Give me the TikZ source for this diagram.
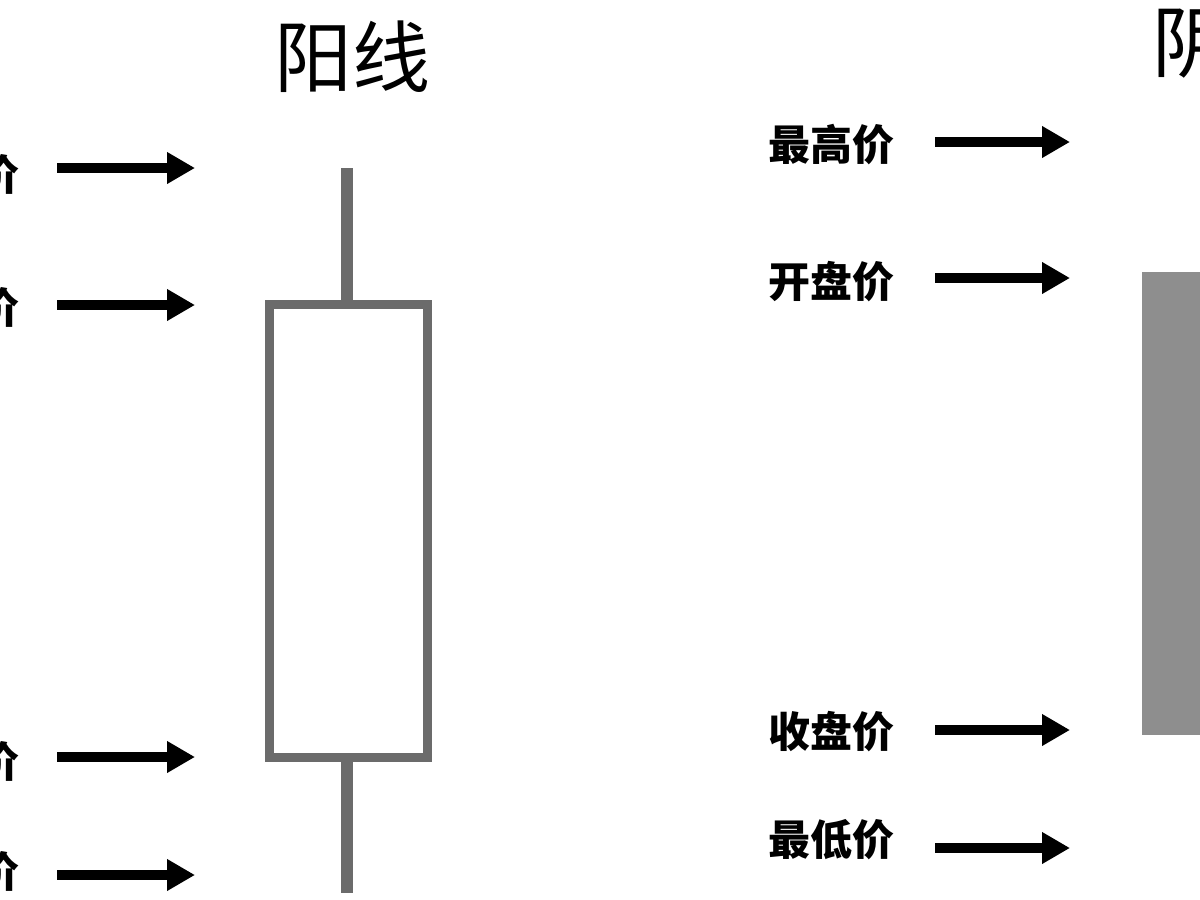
\documentclass[tikz,border=0pt]{standalone}
\usepackage{fontspec}
\newfontfamily\cjk{Noto Sans CJK SC}
\usetikzlibrary{arrows.meta}

\definecolor{wickgray}{HTML}{6B6B6B}
\definecolor{bodygray}{HTML}{8E8E8E}

\tikzset{
  price/.style={font=\cjk\bfseries\fontsize{42}{44}\selectfont, inner sep=0pt, anchor=east},
  title/.style={font=\cjk\fontsize{78}{80}\selectfont, inner sep=0pt},
  pointer/.style={-{Triangle[length=28pt,width=30pt]}, line width=9.5pt},
}

\begin{document}
\begin{tikzpicture}[x=1pt, y=-1pt]

\useasboundingbox (0,0) rectangle (1200,900);
\clip (0,0) rectangle (1200,900);

% yang candle (left)
\node (yang)[title] at (352,57) {阳线};

\node (yhigh)[price] at (20,175) {最高价};
\node (yclose)[price] at (20,308) {收盘价};
\node (yopen)[price] at (20,762) {开盘价};
\node (ylow)[price] at (20,872) {最低价};

\coordinate (yhightip) at (195,168);
\coordinate (yclosetip) at (195,305);
\coordinate (yopentip) at (195,757);
\coordinate (ylowtip) at (195,875);

\draw[pointer] ([xshift=37pt]yhigh.east |- yhightip) -- (yhightip);
\draw[pointer] ([xshift=37pt]yclose.east |- yclosetip) -- (yclosetip);
\draw[pointer] ([xshift=37pt]yopen.east |- yopentip) -- (yopentip);
\draw[pointer] ([xshift=37pt]ylow.east |- ylowtip) -- (ylowtip);

\draw[wickgray, line width=12pt] (347,168) -- (347,302);
\draw[wickgray, line width=9pt, fill=white] (269.5,304.5) rectangle (427.5,757.5);
\draw[wickgray, line width=12pt] (347,762) -- (347,893);

% yin candle (right)
\node (yin)[title] at (1230,42) {阴线};

\node (nhigh)[price] at (895,145) {最高价};
\node (nopen)[price] at (895,282) {开盘价};
\node (nclose)[price] at (895,732) {收盘价};
\node (nlow)[price] at (895,840) {最低价};

\coordinate (nhightip) at (1070,142);
\coordinate (nopentip) at (1070,278);
\coordinate (nclosetip) at (1070,730);
\coordinate (nlowtip) at (1070,848);

\draw[pointer] ([xshift=40pt]nhigh.east |- nhightip) -- (nhightip);
\draw[pointer] ([xshift=40pt]nopen.east |- nopentip) -- (nopentip);
\draw[pointer] ([xshift=40pt]nclose.east |- nclosetip) -- (nclosetip);
\draw[pointer] ([xshift=40pt]nlow.east |- nlowtip) -- (nlowtip);

\fill[bodygray] (1142,272) rectangle (1310,735);

\end{tikzpicture}
\end{document}
